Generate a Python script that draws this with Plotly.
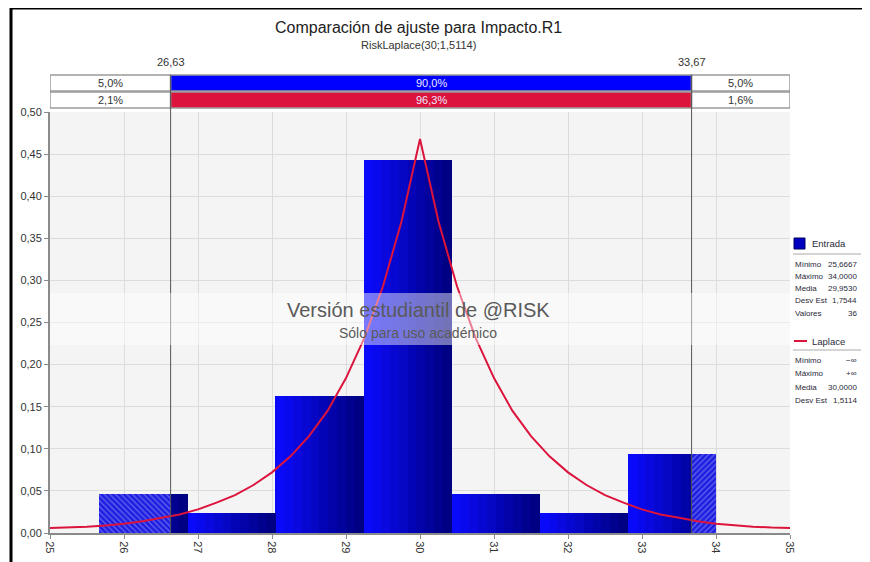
import plotly.graph_objects as go

# ---------------- data ----------------
bin_edges = [25.6667, 26.8571, 28.0476, 29.2381, 30.4286, 31.6190, 32.8095, 34.0]
bin_density = [0.0467, 0.0233, 0.1633, 0.4433, 0.0467, 0.0233, 0.0933]

curve_x = [25 + 0.25 * i for i in range(41)]
curve_y = [0.0060, 0.0065, 0.0075, 0.0090, 0.011, 0.014, 0.018, 0.022, 0.028, 0.036,
           0.045, 0.057, 0.072, 0.091, 0.115, 0.145, 0.184, 0.232, 0.293, 0.370,
           0.468,
           0.370, 0.293, 0.232, 0.184, 0.145, 0.115, 0.091, 0.072, 0.057, 0.045,
           0.036, 0.028, 0.022, 0.018, 0.014, 0.011, 0.0090, 0.0075, 0.0065, 0.0060]

left_mark = 26.63
right_mark = 33.67
left_mark_label = "26,63"
right_mark_label = "33,67"
row1_labels = ["5,0%", "90,0%", "5,0%"]
row2_labels = ["2,1%", "96,3%", "1,6%"]

y_ticks = [0, 0.05, 0.10, 0.15, 0.20, 0.25, 0.30, 0.35, 0.40, 0.45, 0.50]
x_ticks = list(range(25, 36))

entrada_stats = [("Mínimo", "25,6667"), ("Máximo", "34,0000"), ("Media", "29,9530"),
                 ("Desv Est", "1,7544"), ("Valores", "36")]
laplace_stats = [("Mínimo", "−∞"), ("Máximo", "+∞"), ("Media", "30,0000"),
                 ("Desv Est", "1,5114")]

title = "Comparación de ajuste para Impacto.R1"
subtitle = "RiskLaplace(30;1,5114)"
wm1 = "Versión estudiantil de @RISK"
wm2 = "Sólo para uso académico"

# ---------------- geometry (page pixel layout) ----------------
PAGE_W, PAGE_H = 870, 562
OFF = 8  # default body margin of the html page
PL, PR, PT, PB = 50, 790, 112, 533  # plot area in page px
FIG_W = PAGE_W - OFF
FIG_H = PAGE_H - OFF
FONT = "Liberation Sans"

def px_x(px):
    return (px - PL) / (PR - PL)

def px_y(py):
    return (PB - py) / (PB - PT)

fig = go.Figure()

# gradient bars: each bin split into strips
N = 10
c0 = (10, 10, 250)
c1 = (0, 0, 130)
lefts = bin_edges[:-1]
widths = [bin_edges[i + 1] - bin_edges[i] for i in range(len(bin_density))]
for k in range(N):
    t = k / (N - 1)
    col = "rgb(%d,%d,%d)" % tuple(round(c0[j] + (c1[j] - c0[j]) * t) for j in range(3))
    xs = [lefts[i] + (k + 0.5) * widths[i] / N for i in range(len(bin_density))]
    ws = [widths[i] / N * 1.02 for i in range(len(bin_density))]
    fig.add_trace(go.Bar(x=xs, y=bin_density, width=ws, marker=dict(color=col, line=dict(width=0)),
                         showlegend=False, hoverinfo="skip"))

# hatched tails
hx = [(bin_edges[0] + left_mark) / 2, (right_mark + bin_edges[-1]) / 2]
hw = [left_mark - bin_edges[0], bin_edges[-1] - right_mark]
hy = [bin_density[0], bin_density[-1]]
for i, shp in enumerate(["\\", "/"]):
    fig.add_trace(go.Bar(x=[hx[i]], y=[hy[i]], width=[hw[i]],
                         marker=dict(color="rgb(30,30,225)", line=dict(width=0),
                                     pattern=dict(shape=shp, fgcolor="rgba(200,200,255,0.85)",
                                                  bgcolor="rgb(30,30,225)", size=4, solidity=0.3)),
                         showlegend=False, hoverinfo="skip"))

# Laplace curve
fig.add_trace(go.Scatter(x=curve_x, y=curve_y, mode="lines",
                         line=dict(color="#dc143c", width=2), showlegend=False, hoverinfo="skip"))

# triangles at markers
tri_y = 0.5 + (PT - 72) / (PB - PT) * 0.5
fig.add_trace(go.Scatter(x=[left_mark, right_mark], y=[tri_y, tri_y], mode="markers",
                         marker=dict(symbol="triangle-down", size=7, color="#333333"),
                         cliponaxis=False, showlegend=False, hoverinfo="skip"))

shapes = []
annotations = []

def note(xp, yp, text, font, xanchor="center", xref="paper"):
    annotations.append(dict(x=xp, y=yp, xref=xref, yref="paper", text=text, showarrow=False,
                            xanchor=xanchor, yanchor="middle", font=font))

# frame
shapes.append(dict(type="line", xref="paper", yref="paper", x0=px_x(10), x1=px_x(872),
                   y0=px_y(8), y1=px_y(8), line=dict(color="black", width=3)))
shapes.append(dict(type="line", xref="paper", yref="paper", x0=px_x(11), x1=px_x(11),
                   y0=px_y(7), y1=px_y(562), line=dict(color="black", width=3)))

# top percentage rows
rows = [(75, 91, row1_labels, "#0000ff"), (92, 108, row2_labels, "#dc143c")]
for (ya, yb, labs, col) in rows:
    segs = [(25, left_mark, "white"), (left_mark, right_mark, col), (right_mark, 35, "white")]
    for j, (xa, xb, fc) in enumerate(segs):
        shapes.append(dict(type="rect", xref="x", yref="paper", x0=xa, x1=xb,
                           y0=px_y(yb), y1=px_y(ya), fillcolor=fc,
                           line=dict(color="#9a9a9a", width=1.5), layer="above"))
        note((xa + xb) / 2, px_y((ya + yb) / 2), labs[j],
             dict(family=FONT, size=11, color="#e8e8ff" if fc != "white" else "#333333"), xref="x")

# vertical marker lines
for m, lab in [(left_mark, left_mark_label), (right_mark, right_mark_label)]:
    shapes.append(dict(type="line", xref="x", yref="paper", x0=m, x1=m,
                       y0=0, y1=px_y(75), line=dict(color="#555555", width=1), layer="above"))
    note(m, px_y(62), lab, dict(family=FONT, size=11, color="#333333"), xref="x")

# watermark band
shapes.append(dict(type="rect", xref="paper", yref="paper", x0=0, x1=1,
                   y0=px_y(345), y1=px_y(293), fillcolor="rgba(255,255,255,0.45)",
                   line=dict(width=0), layer="above"))
note(px_x(418), px_y(310), wm1, dict(family=FONT, size=20, color="#5a5a5a"))
note(px_x(418), px_y(333), wm2, dict(family=FONT, size=14, color="#5a5a5a"))

# titles
note(px_x(418), px_y(27), title, dict(family=FONT, size=16, color="#222222"))
note(px_x(418), px_y(45), subtitle, dict(family=FONT, size=11, color="#333333"))

# right legend panel
LX, RX = 793, 859
sfont = dict(family=FONT, size=8, color="#2a2a3a")
shapes.append(dict(type="rect", xref="paper", yref="paper", x0=px_x(794), x1=px_x(805),
                   y0=px_y(249), y1=px_y(238), fillcolor="#0000c0",
                   line=dict(color="#000060", width=1)))
note(px_x(810), px_y(243), "Entrada", dict(family=FONT, size=9.5, color="#2a2a3a"), xanchor="left")
shapes.append(dict(type="line", xref="paper", yref="paper", x0=px_x(793), x1=px_x(861),
                   y0=px_y(254), y1=px_y(254), line=dict(color="#aaaaaa", width=1)))
for i, (k, v) in enumerate(entrada_stats):
    yy = 264 + i * 12.3
    note(px_x(LX), px_y(yy), k, sfont, xanchor="left")
    note(px_x(RX), px_y(yy), v, sfont, xanchor="right")
shapes.append(dict(type="line", xref="paper", yref="paper", x0=px_x(794), x1=px_x(807),
                   y0=px_y(341), y1=px_y(341), line=dict(color="#dc143c", width=2)))
note(px_x(810), px_y(341), "Laplace", dict(family=FONT, size=9.5, color="#2a2a3a"), xanchor="left")
shapes.append(dict(type="line", xref="paper", yref="paper", x0=px_x(793), x1=px_x(861),
                   y0=px_y(350), y1=px_y(350), line=dict(color="#aaaaaa", width=1)))
for i, (k, v) in enumerate(laplace_stats):
    yy = 360 + i * 13.5
    note(px_x(LX), px_y(yy), k, sfont, xanchor="left")
    note(px_x(RX), px_y(yy), v, sfont, xanchor="right")

fig.update_layout(
    width=FIG_W, height=FIG_H,
    margin=dict(l=PL - OFF, r=FIG_W - (PR - OFF), t=PT - OFF, b=FIG_H - (PB - OFF), pad=0,
                autoexpand=False),
    paper_bgcolor="white", plot_bgcolor="#f4f4f4",
    barmode="overlay", bargap=0,
    separators=",.",
    shapes=shapes, annotations=annotations,
    font=dict(family=FONT, size=11, color="#333333"),
)
fig.update_xaxes(range=[25, 35], tickmode="array", tickvals=x_ticks, ticktext=[str(v) for v in x_ticks],
                 tickangle=90, showgrid=True, gridcolor="#dcdcdc", gridwidth=1, automargin=False,
                 showline=True, linecolor="#8a8a8a", linewidth=2, ticks="outside", ticklen=4,
                 tickcolor="#8a8a8a", zeroline=False, tickfont=dict(family=FONT, size=11, color="#333333"),
                 fixedrange=True)
fig.update_yaxes(range=[0, 0.5], tickmode="array", tickvals=y_ticks, tickformat=".2f",
                 showgrid=True, gridcolor="#dcdcdc", gridwidth=1, automargin=False,
                 showline=True, linecolor="#8a8a8a", linewidth=2, ticks="outside", ticklen=4,
                 tickcolor="#8a8a8a", zeroline=False, tickfont=dict(family=FONT, size=11, color="#333333"),
                 fixedrange=True)

fig.write_html("out.html")
